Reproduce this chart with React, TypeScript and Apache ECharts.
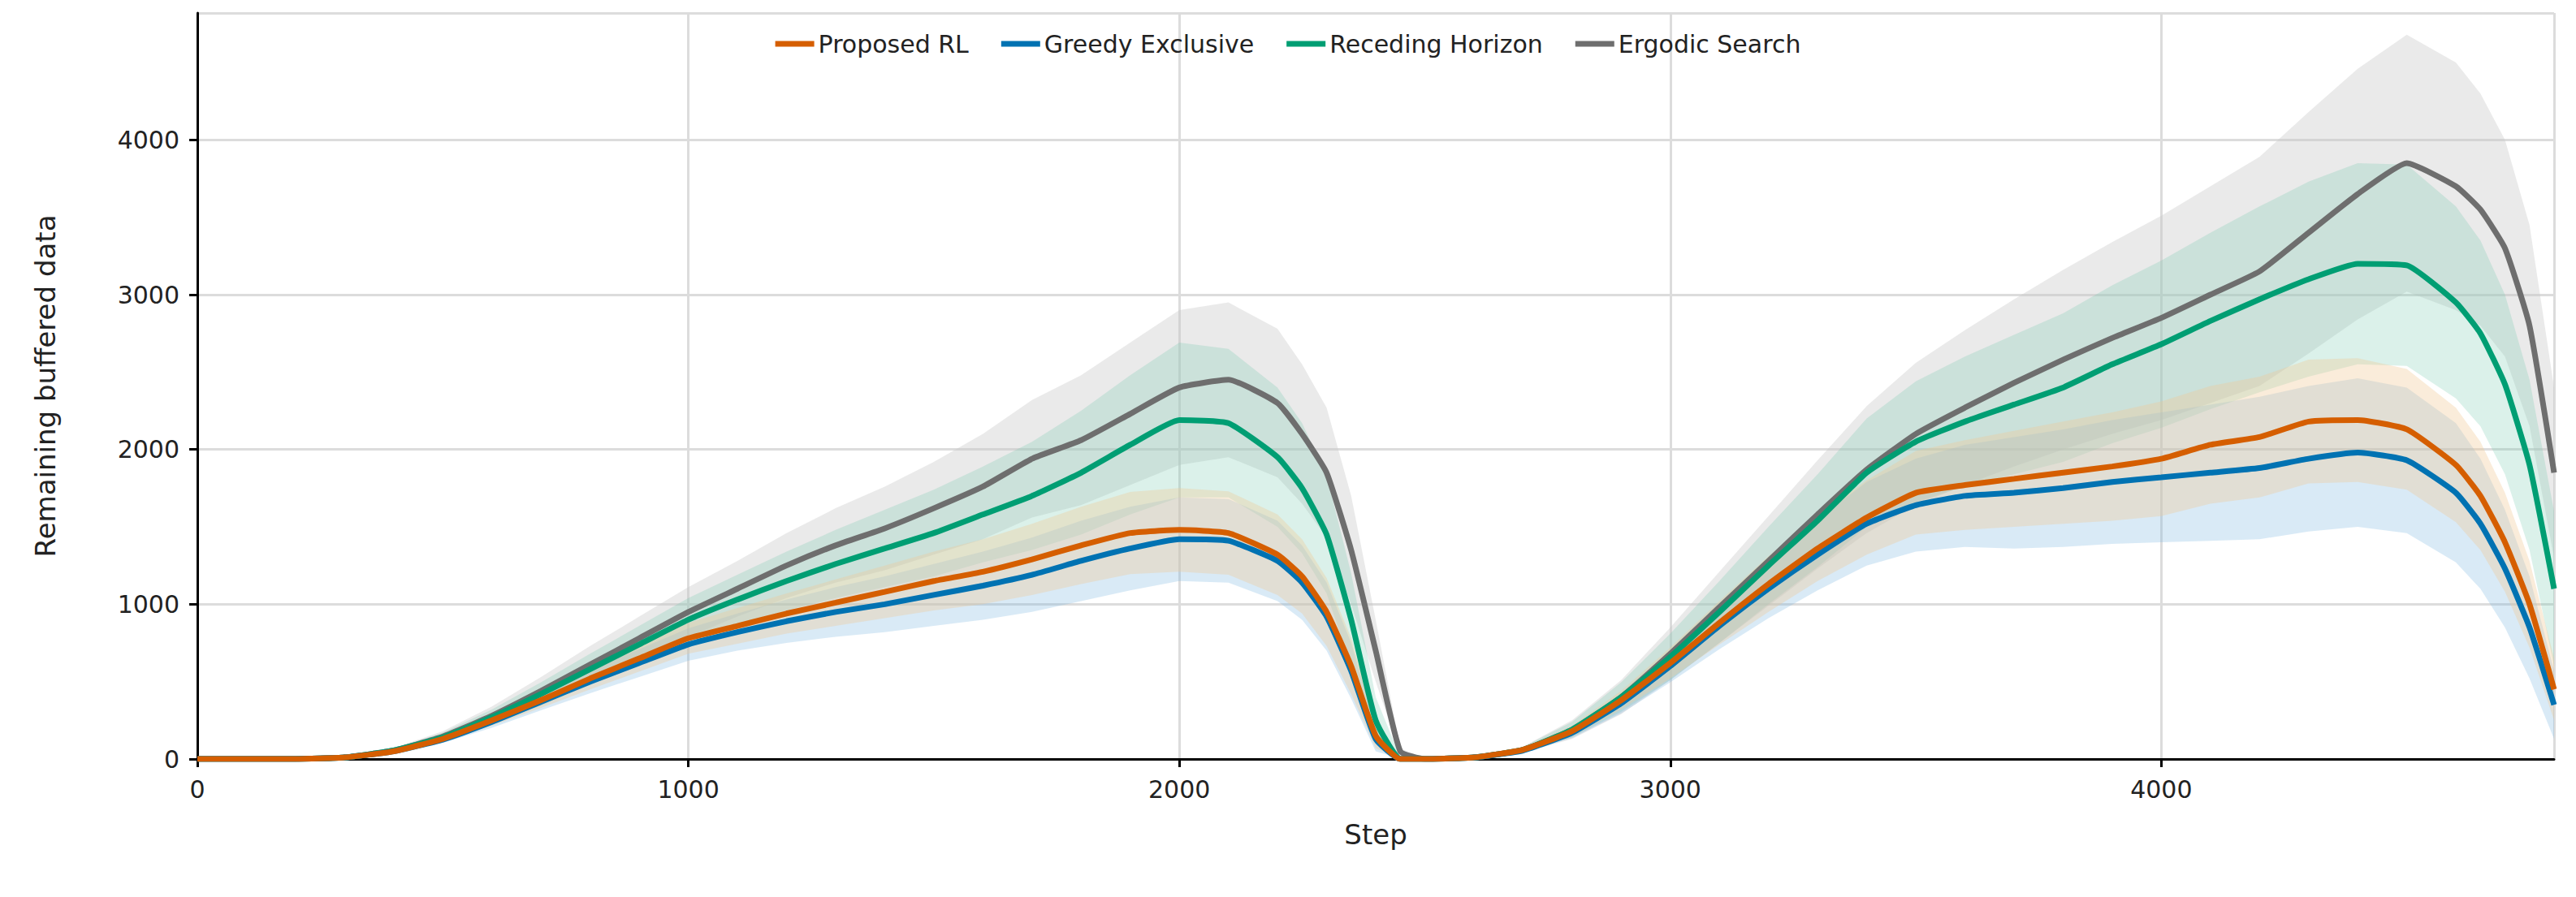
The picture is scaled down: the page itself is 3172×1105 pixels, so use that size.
import { useEffect, useRef } from "react";
import * as echarts from "echarts";

const STEPS = [0, 100, 200, 300, 400, 500, 600, 700, 800, 900, 1000, 1100, 1200, 1300, 1400, 1500, 1600, 1700, 1800, 1900, 2000,
  2100, 2200, 2250, 2300, 2350, 2400, 2450, 2500,
  2600, 2700, 2800, 2900, 3000, 3100, 3200, 3300, 3400, 3500, 3600, 3700, 3800, 3900, 4000, 4100, 4200, 4300, 4400, 4500, 4600,
  4650, 4700, 4750, 4800];

const RL = [0, 0, 0, 10, 50, 130, 250, 380, 520, 650, 780, 860, 940, 1010, 1080, 1150, 1210, 1290, 1380, 1460, 1480,
  1460, 1320, 1180, 950, 600, 150, 0, 0,
  10, 60, 180, 380, 620, 880, 1130, 1360, 1560, 1720, 1770, 1810, 1850, 1890, 1940, 2030, 2080, 2180, 2190, 2130, 1900,
  1700, 1400, 1000, 450];
const GREEDY = [0, 0, 0, 10, 50, 125, 240, 370, 500, 620, 740, 820, 890, 950, 1000, 1060, 1120, 1190, 1280, 1360, 1420,
  1410, 1280, 1140, 920, 570, 130, 0, 0,
  10, 55, 170, 360, 600, 860, 1100, 1320, 1520, 1640, 1700, 1720, 1750, 1790, 1820, 1850, 1880, 1940, 1980, 1930, 1720,
  1520, 1230, 850, 350];
const RH = [0, 0, 0, 10, 55, 140, 270, 420, 580, 740, 900, 1030, 1150, 1260, 1360, 1460, 1580, 1700, 1850, 2030, 2190,
  2170, 1950, 1750, 1450, 900, 250, 0, 0,
  10, 60, 190, 400, 660, 950, 1250, 1540, 1850, 2050, 2180, 2290, 2400, 2550, 2680, 2830, 2970, 3100, 3200, 3190, 2950,
  2750, 2420, 1900, 1100];
const ERGODIC = [0, 0, 0, 10, 55, 145, 280, 440, 610, 780, 950, 1100, 1250, 1380, 1490, 1620, 1760, 1940, 2060, 2230, 2400,
  2450, 2300, 2100, 1850, 1350, 700, 50, 0,
  10, 60, 190, 400, 680, 980, 1280, 1580, 1870, 2100, 2270, 2430, 2580, 2720, 2850, 3000, 3150, 3400, 3650, 3850, 3700,
  3550, 3300, 2800, 1850];

// half-width of the shaded bands
const RL_SPREAD = [0, 0, 0, 4, 10, 20, 35, 50, 70, 85, 100, 115, 130, 150, 170, 190, 210, 230, 250, 265, 270,
  270, 260, 240, 220, 180, 80, 5, 0,
  4, 12, 35, 60, 100, 140, 180, 210, 240, 270, 290, 310, 330, 350, 370, 380, 390, 400, 400, 390, 370,
  350, 320, 280, 200];
const GREEDY_SPREAD = [0, 0, 0, 4, 10, 22, 38, 55, 75, 90, 105, 120, 140, 160, 180, 200, 220, 240, 260, 270, 270,
  270, 260, 240, 220, 180, 80, 5, 0,
  4, 12, 35, 65, 105, 150, 190, 230, 270, 300, 330, 360, 380, 400, 420, 440, 460, 470, 480, 470, 450,
  420, 380, 330, 220];
const RH_SPREAD = [0, 0, 0, 5, 12, 30, 50, 75, 100, 120, 140, 160, 190, 220, 250, 280, 310, 350, 400, 450, 500,
  480, 450, 420, 380, 300, 150, 10, 0,
  5, 18, 50, 95, 150, 200, 250, 300, 350, 390, 420, 450, 480, 510, 540, 570, 600, 630, 650, 650, 620,
  600, 580, 550, 500];
const ERGODIC_SPREAD = [0, 0, 0, 5, 15, 35, 60, 90, 120, 140, 160, 180, 210, 240, 270, 300, 340, 380, 420, 460, 500,
  500, 480, 450, 420, 350, 200, 20, 0,
  5, 20, 60, 110, 170, 230, 290, 350, 410, 460, 500, 540, 580, 620, 660, 700, 740, 780, 810, 830, 800,
  750, 700, 650, 550];

const SERIES = [
  { name: "Proposed RL", mean: RL, spread: RL_SPREAD, color: "#D55E00", band: "rgba(240,200,150,0.35)" },
  { name: "Greedy Exclusive", mean: GREEDY, spread: GREEDY_SPREAD, color: "#0072B2", band: "rgba(130,185,225,0.3)" },
  { name: "Receding Horizon", mean: RH, spread: RH_SPREAD, color: "#009E73", band: "rgba(110,200,170,0.25)" },
  { name: "Ergodic Search", mean: ERGODIC, spread: ERGODIC_SPREAD, color: "#6E6E6E", band: "rgba(200,200,200,0.38)" },
];

const FONT = "DejaVu Sans";

export default function App() {
  const ref = useRef<HTMLDivElement>(null);
  useEffect(() => {
    if (!ref.current) return;
    const chart = echarts.init(ref.current, undefined, { renderer: "svg" });
    const order = [...SERIES].reverse();
    const bands = {
      type: "custom", name: "bands", silent: true, z: 1, clip: true,
      encode: { x: 0, y: 1 },
      data: order.map(() => [0, 0]),
      renderItem: (params: any, api: any) => {
        const s = order[params.dataIndex];
        const up = STEPS.map((x, i) => api.coord([x, s.mean[i] + s.spread[i]]));
        const lo = STEPS.map((x, i) => api.coord([x, Math.max(0, s.mean[i] - s.spread[i])])).reverse();
        return { type: "polygon", shape: { points: [...up, ...lo] }, style: { fill: s.band } };
      },
    };
    const lines = order.map((s) => ({
      type: "line", name: s.name, symbol: "none", smooth: 0.15, z: 5,
      lineStyle: { color: s.color, width: 7 }, itemStyle: { color: s.color },
      data: STEPS.map((x, i) => [x, s.mean[i]]),
    }));
    const fmt = (v: number) => String(v);
    chart.setOption({
      animation: false,
      textStyle: { fontFamily: FONT },
      legend: {
        data: SERIES.map((s) => s.name), top: 34, left: "center", icon: "rect",
        itemWidth: 48, itemHeight: 7, itemGap: 40,
        textStyle: { fontSize: 30, color: "#222", fontFamily: FONT },
      },
      grid: { left: 243, right: 27, top: 16, bottom: 170 },
      xAxis: {
        type: "value", min: 0, max: 4800, interval: 1000,
        name: "Step", nameLocation: "middle", nameGap: 76,
        nameTextStyle: { fontSize: 34, color: "#222" },
        axisLine: { lineStyle: { color: "#000", width: 3 } },
        axisTick: { show: true, length: 10, lineStyle: { color: "#000", width: 3 } },
        axisLabel: { fontSize: 30, color: "#222", margin: 22, showMaxLabel: false, formatter: fmt },
        splitLine: { show: true, lineStyle: { color: "#dcdcdc", width: 3 } },
      },
      yAxis: {
        type: "value", min: 0, max: 4820, interval: 1000,
        name: "Remaining buffered data", nameLocation: "middle", nameGap: 170,
        nameTextStyle: { fontSize: 34, color: "#222" },
        axisLine: { show: true, lineStyle: { color: "#000", width: 3 } },
        axisTick: { show: true, length: 10, lineStyle: { color: "#000", width: 3 } },
        axisLabel: { fontSize: 30, color: "#222", margin: 22, showMaxLabel: false, formatter: fmt },
        splitLine: { show: true, lineStyle: { color: "#dcdcdc", width: 3 } },
      },
      series: [bands, ...lines],
    });
    return () => chart.dispose();
  }, []);
  return <div ref={ref} style={{ position: "fixed", left: 0, top: 0, width: 3172, height: 1105, background: "#fff" }} />;
}
